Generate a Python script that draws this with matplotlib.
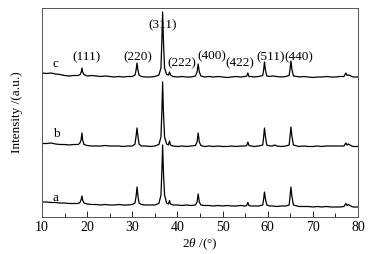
import matplotlib
matplotlib.use("Agg")
import matplotlib.pyplot as plt
from matplotlib.ticker import MultipleLocator

plt.rcParams['font.family'] = ['Liberation Serif', 'DejaVu Serif']
plt.rcParams['mathtext.fontset'] = 'custom'
plt.rcParams['mathtext.rm'] = 'Liberation Serif'
plt.rcParams['mathtext.it'] = 'Liberation Serif:italic'

# (2theta, intensity) points, intensity in arbitrary units
c_pts = [(10, 144), (11, 143.5), (12, 144), (13, 143), (14, 142.5), (15, 141.5), (16, 141), (17, 141.5),
         (18, 141.5), (18.45, 142.5), (18.7, 145), (18.85, 149), (19.0, 145), (19.3, 142.5), (20, 141),
         (21, 141.5), (22, 141), (23, 140.5), (24, 141), (25, 140.5), (26, 140), (27, 140.5), (28, 140),
         (29, 140.5), (30, 140.5), (30.6, 142), (30.85, 147), (31.05, 154), (31.25, 147), (31.5, 142),
         (32, 140.5), (33, 140), (34, 140), (35, 140.5), (35.9, 142), (36.35, 149), (36.55, 176),
         (36.72, 205), (36.9, 176), (37.15, 149), (37.6, 142.5), (38.0, 142), (38.25, 145), (38.45, 142),
         (39, 140.5), (40, 140), (41, 140.5), (42, 140), (43, 140), (44, 141), (44.35, 145), (44.6, 153),
         (44.85, 145), (45.2, 141), (46, 140), (47, 140.5), (48, 140), (49, 140.5), (50, 140), (51, 139.5),
         (52, 140), (53, 140.5), (54, 140), (55, 140.5), (55.35, 141), (55.6, 144), (55.85, 140.5),
         (56.3, 140.5), (57, 140), (58, 140.5), (58.9, 141.5), (59.1, 147), (59.28, 155), (59.5, 147),
         (59.8, 141), (60.5, 140.5), (61, 141), (62, 140.5), (63, 140), (64, 140.5), (64.75, 141.5),
         (64.95, 148), (65.15, 156), (65.35, 148), (65.7, 141), (66.5, 140.5), (67, 140), (68, 140.5),
         (69, 140), (70, 139.5), (71, 140), (72, 140), (73, 140.5), (74, 140), (75, 140), (76, 140.5),
         (76.9, 140.5), (77.3, 144), (77.6, 141.5), (77.9, 142), (78.2, 141.5), (78.6, 140.5), (79, 140),
         (80, 140)]

b_pts = [(10, 73.5), (11, 73.5), (12, 74), (13, 73), (14, 72.5), (15, 72.5), (16, 72), (17, 72.5),
         (18, 72.5), (18.4, 74), (18.65, 77), (18.85, 84), (19.0, 77), (19.3, 72.5), (20, 71.5),
         (21, 71), (22, 71), (23, 71), (24, 71.5), (25, 71), (26, 71), (27, 71), (28, 70.5),
         (29, 71), (30, 71), (30.6, 73), (30.85, 81), (31.05, 89), (31.25, 81), (31.5, 73),
         (32, 71), (33, 71), (34, 70.5), (35, 71), (35.9, 72.5), (36.35, 80), (36.55, 105),
         (36.72, 135), (36.9, 105), (37.15, 80), (37.6, 73), (38.0, 72), (38.25, 76), (38.45, 72),
         (39, 71), (40, 70.5), (41, 71), (42, 70.5), (43, 71), (44, 71.5), (44.35, 75), (44.6, 84),
         (44.85, 75), (45.2, 71.5), (46, 70.5), (47, 71), (48, 70.5), (49, 71), (50, 70.5), (51, 70.5),
         (52, 71), (53, 70.5), (54, 71), (55, 71), (55.35, 71.5), (55.6, 75), (55.85, 71.5),
         (56.3, 71), (57, 70.5), (58, 71), (58.9, 72), (59.1, 80), (59.28, 89), (59.5, 80),
         (59.8, 72), (60.5, 71), (61, 71), (61.6, 72), (62, 71), (63, 70.5), (64, 71), (64.75, 72),
         (64.95, 81), (65.15, 90), (65.35, 81), (65.7, 72), (66.5, 71), (67, 70.5), (68, 71),
         (69, 70.5), (70, 70.5), (71, 71), (72, 70.5), (73, 71), (74, 71), (75, 71), (76, 71),
         (76.9, 71), (77.3, 74), (77.6, 72), (77.9, 73), (78.2, 72), (78.6, 71), (79, 70.5),
         (80, 70.5)]

a_pts = [(10, 15), (11, 15), (12, 14.5), (13, 14.5), (14, 14), (15, 14), (16, 13.5), (17, 13.5),
         (18, 13.5), (18.4, 14.5), (18.65, 17), (18.85, 21), (19.0, 17), (19.3, 14), (20, 13),
         (21, 12.5), (22, 12.5), (23, 12), (24, 12.5), (25, 12), (26, 12), (27, 12.5), (28, 12),
         (29, 12), (30, 12.5), (30.6, 14), (30.85, 21), (31.05, 30), (31.25, 21), (31.5, 14),
         (32, 12.5), (33, 12), (34, 12), (35, 12), (35.9, 13.5), (36.35, 22), (36.55, 45),
         (36.72, 72), (36.9, 45), (37.15, 22), (37.6, 14), (38.0, 13), (38.25, 16.5), (38.45, 13),
         (39, 12), (40, 12), (41, 11.5), (42, 12), (43, 11.5), (44, 12), (44.35, 15), (44.6, 23),
         (44.85, 15), (45.2, 12), (46, 11.5), (47, 11.5), (48, 11), (49, 11.5), (50, 11), (51, 11.5),
         (52, 11), (53, 11), (54, 11.5), (55, 11), (55.35, 11.5), (55.6, 14.5), (55.85, 11.5),
         (56.3, 11), (57, 11), (58, 11), (58.9, 12), (59.1, 18), (59.28, 25), (59.5, 18),
         (59.8, 12), (60.5, 11), (61, 11), (62, 10.5), (63, 11), (64, 11), (64.75, 12),
         (64.95, 21), (65.15, 30), (65.35, 21), (65.7, 12), (66.5, 11), (67, 10.5), (68, 10.5),
         (69, 10.5), (70, 10), (71, 10.5), (72, 10), (73, 10.5), (74, 10), (75, 10), (76, 10),
         (76.9, 10.5), (77.3, 13.5), (77.6, 11.5), (77.9, 12.5), (78.2, 11.5), (78.6, 10.5), (79, 10),
         (80, 10)]

series_names = ["a", "b", "c"]
name_x = [13.1, 13.2, 13.0]
name_y = [19, 83, 153]

hkl_labels = ["(111)", "(220)", "(311)", "(222)", "(400)", "(422)", "(511)", "(440)"]
hkl_x = [19.9, 31.3, 36.8, 40.9, 47.6, 53.9, 60.6, 66.9]
hkl_y = [160, 160, 192, 154, 161, 154, 160, 160]

fig = plt.figure(figsize=(3.74, 2.54), dpi=100)
ax = fig.add_axes([0.1123, 0.1457, 0.8449, 0.8228])

for pts in [a_pts, b_pts, c_pts]:
    xs = [p[0] for p in pts]
    ys = [p[1] for p in pts]
    ax.plot(xs, ys, color="black", lw=0.9)

for name, x, y in zip(series_names, name_x, name_y):
    ax.text(x, y, name, fontsize=9.5, ha="center", va="center")

for lab, x, y in zip(hkl_labels, hkl_x, hkl_y):
    ax.text(x, y, lab, fontsize=9.5, ha="center", va="center")

ax.set_xlim(10, 80)
ax.set_ylim(0, 209)
ax.set_yticks([])
ax.xaxis.set_major_locator(MultipleLocator(10))
ax.xaxis.set_minor_locator(MultipleLocator(5))
ax.tick_params(axis="x", which="major", direction="in", length=4, width=0.6, labelsize=10, pad=3)
ax.tick_params(axis="x", which="minor", direction="in", length=3, width=0.6)
for sp in ax.spines.values():
    sp.set_color("#555555")
    sp.set_linewidth(0.7)

ax.set_xlabel(r"2$\it{\theta}$ /(°)", fontsize=9.5, labelpad=2)
ax.set_ylabel("Intensity /(a.u.)", fontsize=9.5, labelpad=14)

fig.savefig("out.png", dpi=100)
